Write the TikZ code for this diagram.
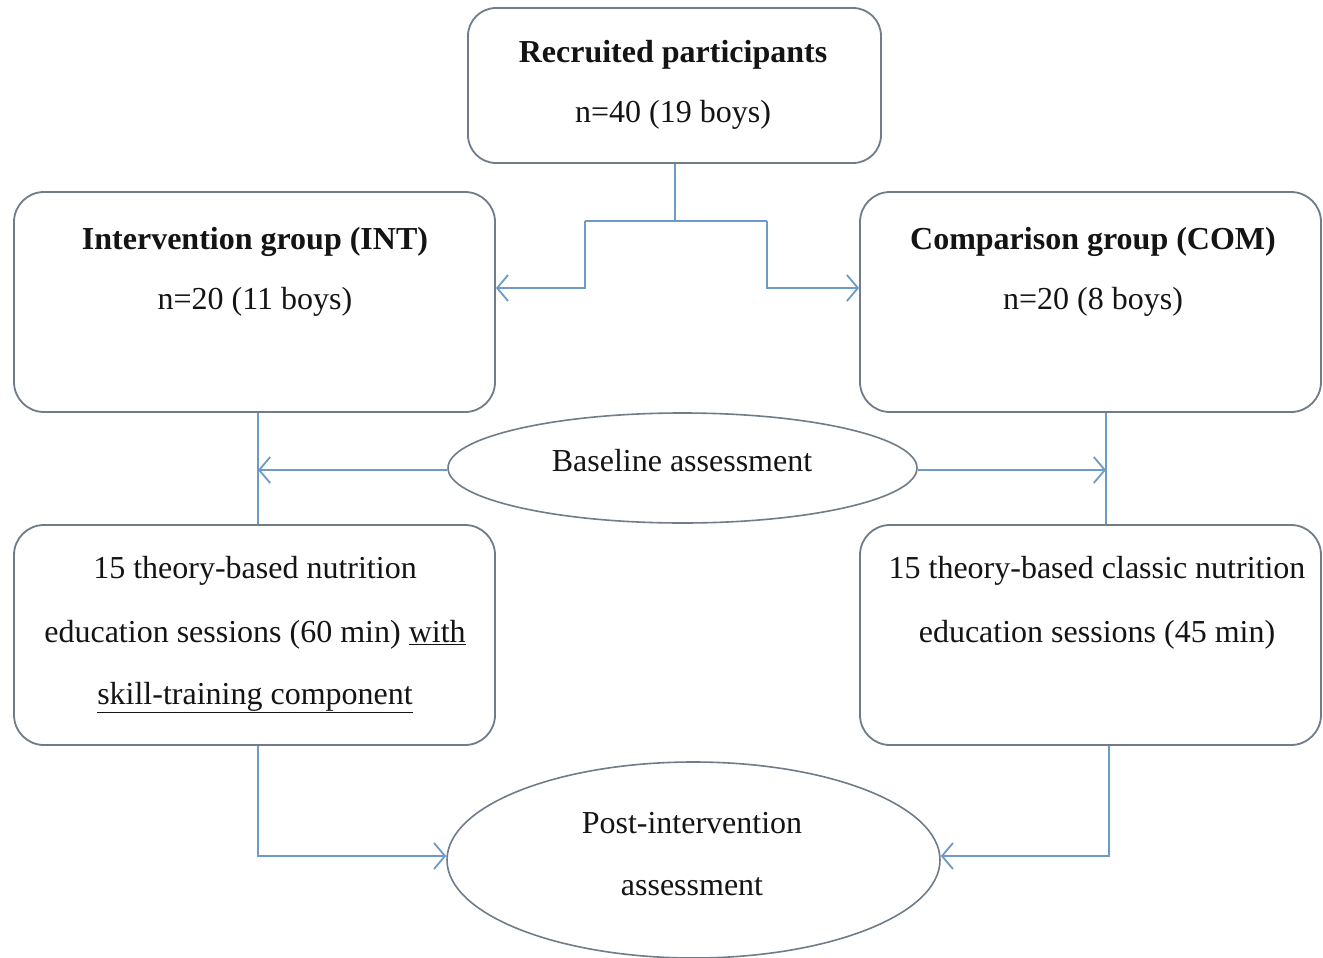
\documentclass[tikz,border=0pt]{standalone}
\usepackage{fontspec}
\setmainfont{Liberation Serif}
\usetikzlibrary{arrows.meta,shapes.geometric}
\definecolor{boxgray}{HTML}{707C88}
\definecolor{connblue}{HTML}{6E9BC5}
\definecolor{txtcol}{HTML}{141414}
\tikzset{
  box/.style={draw=boxgray, line width=1.8pt, rounded corners=30pt, inner sep=0pt, fill=white},
  oval/.style={draw=boxgray, line width=1.6pt, ellipse, inner sep=0pt, fill=white},
  txt/.style={anchor=base, inner sep=0pt, text=txtcol, font=\fontsize{32}{38}\selectfont},
  conn/.style={draw=connblue, line width=1.8pt},
  arr/.style={-{Straight Barb[length=11pt,width=26pt,line width=1.8pt]}}
}
\begin{document}
\begin{tikzpicture}[x=1pt,y=-1pt]
\fill[white] (0,0) rectangle (1323,958);
\useasboundingbox (0,0) rectangle (1323,958);

% boxes
\node[box, rounded corners=28pt, minimum width=413, minimum height=155] (top) at (674.5,85.5) {};
\node[box, minimum width=481, minimum height=220] (int) at (254.5,302) {};
\node[box, minimum width=461, minimum height=220] (com) at (1090.5,302) {};
\node[box, minimum width=481, minimum height=220] (ledu) at (254.5,635) {};
\node[box, minimum width=461, minimum height=220] (redu) at (1090.5,635) {};
\node[oval, minimum width=469, minimum height=110] (base) at (682.5,468) {};
\node[oval, minimum width=493, minimum height=196] (post) at (693.5,860) {};

% texts
\node[txt] (t1) at (673,63) {\textbf{Recruited participants}};
\node[txt] (t2) at (673,122) {n=40 (19 boys)};
\node[txt] (t3) at (255,249) {\textbf{Intervention group (INT)}};
\node[txt] (t4) at (255,309) {n=20 (11 boys)};
\node[txt] (t5) at (1093,249) {\textbf{Comparison group (COM)}};
\node[txt] (t6) at (1093,309) {n=20 (8 boys)};
\node[txt] (t7) at (682,471) {Baseline assessment};
\node[txt] (t8) at (255,578) {15 theory-based nutrition};
\node[txt] (t9) at (255,642) {education sessions (60 min) \underline{with}};
\node[txt] (t10) at (255,704) {\underline{skill-training component}};
\node[txt] (t11) at (1097,578) {15 theory-based classic nutrition};
\node[txt] (t12) at (1097,642) {education sessions (45 min)};
\node[txt] (t13) at (692,833) {Post-intervention};
\node[txt] (t14) at (692,895) {assessment};

% connectors from top box
\coordinate (sp) at (675,221);
\coordinate (spl) at (585,221);
\coordinate (spr) at (767,221);
\draw[conn] (top.south -| sp) -- (sp);
\draw[conn] (spl) -- (spr);
\draw[conn, arr] (spl) -- (spl |- 0,288) -- (int.east |- 0,288);
\draw[conn, arr] (spr) -- (spr |- 0,288) -- (com.west |- 0,288);

% baseline connectors
\draw[conn] (int.south -| 258,0) -- (ledu.north -| 258,0);
\draw[conn] (com.south -| 1106,0) -- (redu.north -| 1106,0);
\draw[conn, arr] (base.west |- 0,470) -- (258,470);
\draw[conn, arr] (base.east |- 0,470) -- (1106,470);

% post connectors
\draw[conn, arr] (ledu.south -| 258,0) -- (258,856) -- (post.west |- 0,856);
\draw[conn, arr] (redu.south -| 1109,0) -- (1109,856) -- (post.east |- 0,856);
\end{tikzpicture}
\end{document}
